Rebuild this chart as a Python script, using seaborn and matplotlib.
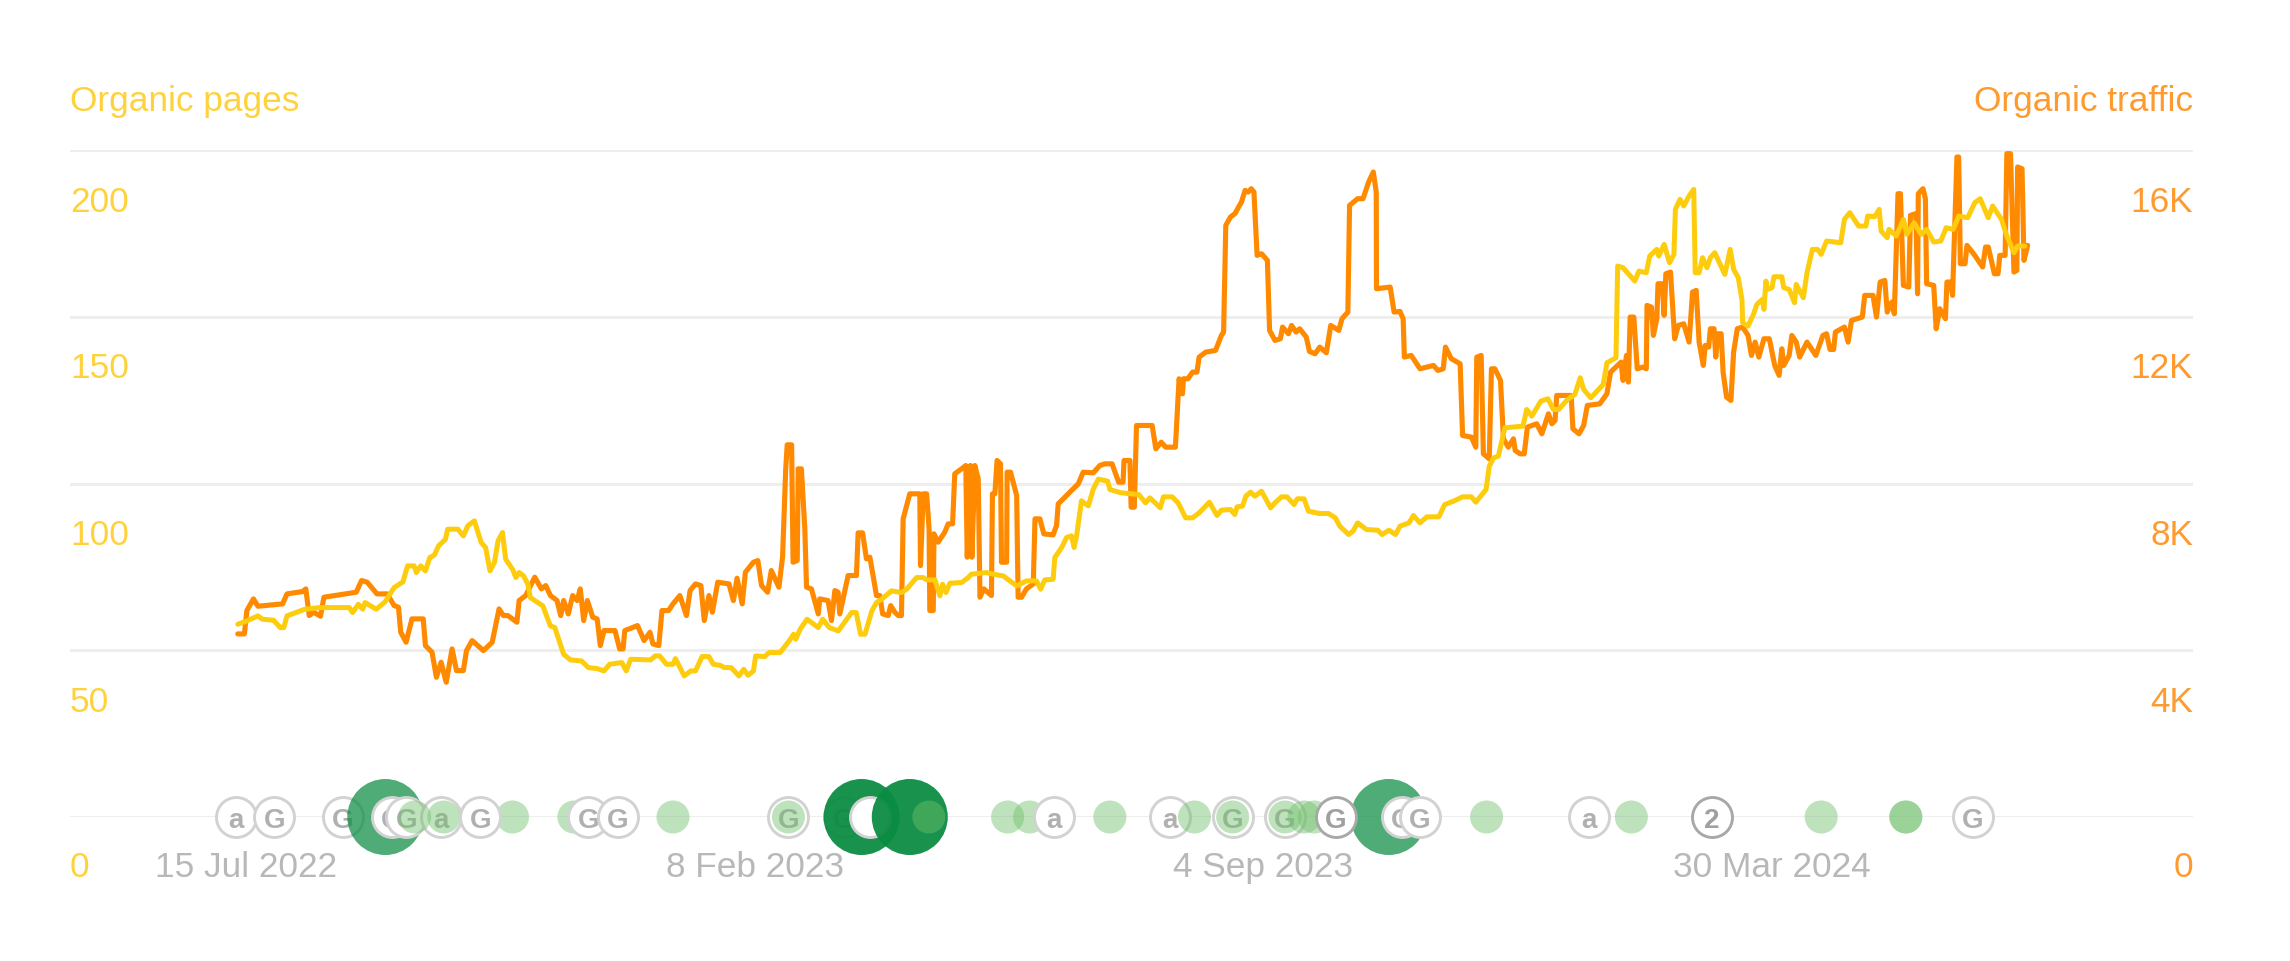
import numpy as np
import pandas as pd
import matplotlib
matplotlib.use("Agg")
import matplotlib.pyplot as plt
from matplotlib.transforms import ScaledTranslation
import seaborn as sns

START = pd.Timestamp("2022-07-15")

traffic_days = [-2.9,-0.2,0.8,3.5,5.3,15.4,17.2,23.6,24.9,26.3,28.1,30.9,32.3,45.5,47.7,50,54,58.2,61,62.8,63.7,65.9,68.3,72.9,73.8,76.5,78.3,80.2,82.3,84.7,86.5,89.3,90.6,92.9,97.5,101.1,103.9,105.7,107.5,111.2,112.1,114.8,118.5,121.2,123,124.9,127.6,129.1,130.3,132.2,134,135.8,137.1,138.5,140,142.2,144,145.3,146.8,151.3,153.2,154.6,155.3,160.5,163.2,165.6,166.8,169.2,170.5,173.2,175,177.8,180.5,182,184.2,186.4,187.8,189.7,191.1,193.3,197.9,199.7,201.2,203.3,204.6,207.9,209.7,211.2,213.7,215.2,218.3,219.8,
221.1,221.7,223.5,224.1,225.8,226.2,227.5,228.9,229.6,231.6,234.4,235,238.4,239.8,241.2,242.5,243.2,246.6,250,250.7,252.5,254.1,255.5,256.8,258.2,259.6,260.7,263,264,265.7,267.1,268.4,269.1,271.8,275.9,276.2,277.3,278.7,279.7,280,281.4,281.7,283.4,286.1,287.5,289.3,290.2,293,294.7,295.3,296.6,297.2,298.4,299.8,300.5,302.1,305.2,305.6,306.6,307.5,308.9,309.3,311.4,311.6,313,315.5,316.1,317.5,319.5,322.3,323,325,326.6,330.4,331.8,332.5,335.2,338.6,340.7,342.7,346.8,349.5,351.6,
354.5,357.2,359,359.4,361.8,362.3,363.6,364.5,370.9,372.4,374.6,376.4,380.4,381.9,383.3,383.7,385.5,387.4,389.2,390.1,392.8,396.8,399.2,400.1,401,402.9,404.7,407.4,408.9,410.2,411.4,412.5,413.8,415.6,418,418.9,421.1,423.3,424.2,426.6,427.9,429.7,431.2,433.9,435.2,437.5,439.4,442.1,443.9,447.2,448.5,450.9,451.6,454.9,457.1,459.4,461.3,462.5,462.6,468.2,469.8,472.2,473.5,474,476.8,480.4,485.9,487.7,489.9,490.8,493.2,496.8,497.8,501.4,503.2,503.6,505.4,506.3,508.7,509.6,511,513.3,514.2,514.5,516.5,518.6,519.3,521.3,523,524.3,528.1,530.2,532.9,534.3,535.6,536.3,
542.2,542.9,545.4,547.3,548.8,553.9,556.8,558.3,562.6,563.4,564.8,565.6,566.3,567.8,569.2,571.4,572.9,573.2,575,575.8,577.2,577.7,579.4,580.2,580.9,582.8,584.5,586,588.2,590.4,591.8,593.3,594.5,596.2,597,598.4,599.1,600.6,601.3,602.1,603.5,604.3,605.7,607.5,608.6,610.1,612.3,614.5,615.9,617.4,618.9,621,623.2,625.4,627.2,628.3,629.1,631.3,632.4,634.2,635.6,638.6,642.2,645.1,646.6,648,649.5,650.2,653.9,655.4,656.8,661.2,662.2,665.6,667,668.5,670.4,671.4,673.3,674.3,675.8,676.8,678,680.2,680.9,683.1,683.8,684.1,686,687,687.5,690.4,691.4,692.9,695.2,695.8,697.3,698.1,699.9,700.6,701.3,703.2,704,707.2,710.4,711.6,712.7,715.2,716.7,717.4,719.6,720.3,721.8,723.2,724.4,724.7,726.5,727.3,728.8]

traffic_vals = [4392,4392,4952,5232,5056,5112,5352,5408,5472,4832,4912,4816,5272,5392,5672,5632,5352,5352,5072,5032,4432,4192,4752,4752,4112,3952,3352,3712,3232,4032,3512,3512,3992,4232,3992,4192,4992,4832,4832,4672,5192,5312,5752,5472,5552,5312,5192,4832,5192,4872,5312,5192,5472,4712,5192,4792,4752,4112,4472,4472,4032,4032,4472,4592,4232,4432,4152,4112,4952,4952,5112,5312,4832,5432,5592,5552,4712,5312,4912,5632,5592,5192,5728,5112,5872,6112,6152,5552,5392,5912,5512,6232,
8352,8928,8928,6112,6152,8352,8352,6912,5512,5472,4872,5232,5192,4712,5432,5392,4872,5792,5792,6816,6816,6192,6232,5792,5312,5312,4872,4832,5072,4912,4832,4832,7152,7752,7752,6032,7752,7752,6912,4952,4952,6792,6592,6832,7032,7032,8232,8352,8432,6232,8432,6232,8432,8112,5272,5472,5312,7752,7752,8552,8472,6112,6112,8272,8272,7712,5272,5272,5472,5592,7152,7152,6792,6768,6992,7512,7672,7872,7992,8272,8256,8432,8472,
8472,8032,8032,8552,8552,7432,7432,9392,9392,8832,8992,8872,8872,10512,10152,10512,10512,10672,10672,11032,11152,11192,11552,11632,14192,14392,14472,14752,15032,14992,15072,14992,13472,13512,13352,11672,11432,11472,11752,11592,11792,11632,11712,11512,11168,11112,11272,11136,11792,11672,11952,12112,14672,14832,14832,15232,15472,14992,12672,12712,12112,12128,11952,11032,11072,10752,10832,10712,10752,11272,10992,10872,9152,9112,8872,11032,11072,8712,8592,10752,10752,10472,9392,9072,8872,9072,8792,8712,8712,9352,9432,9192,9672,9432,9512,10112,
10112,9312,9192,9392,9872,9912,10152,10672,10912,10472,11072,10432,11992,11992,10752,10792,10752,12272,12232,11552,11952,12792,12792,12032,13032,13072,11472,11792,11832,11392,12592,12632,11392,10832,11312,11272,11712,11712,11032,11592,11592,10672,10072,9992,11152,11712,11752,11552,11072,11392,11032,11472,11472,10832,10592,11232,10832,11072,11552,11392,11032,11392,11072,11552,11592,11216,11216,11632,11752,11392,11912,11992,12512,12512,11992,12832,12872,12112,12352,12072,14952,14952,12752,12712,14432,14472,12552,14952,15072,14832,12792,12752,11712,12192,11952,12832,12832,12512,15832,15832,13272,13272,13712,13472,13192,13672,13672,13032,13032,13472,13472,15912,15912,13072,13112,15592,15552,13352,13712]

pages_days = [-2.9,0.8,5.3,7.2,11.7,14.5,15.9,17.2,20.8,24.5,30.9,42.7,44,46.4,48.2,49.1,53.7,57.3,61,64.6,66.5,69.2,70.1,71.9,73.8,75.6,77.4,79.2,82,82.9,87.1,89.3,91.1,93.8,96.6,98.4,100.2,102,103.5,105.3,106.6,109.4,110.8,112.1,113.9,115.7,116.7,121.8,124.9,126.7,130.3,133.1,137.6,140.4,144,146.8,149.1,154.1,155.9,157.7,165.9,167.7,169.6,172.3,175,176,179.6,182.3,184.2,186.9,189.7,191.5,194.2,196,198.8,202,203.9,205.7,207.9,208.8,212.5,214.3,218.8,222.5,224.3,225.2,227,229.8,234.4,236.2,238.9,242.6,248,249.9,251.7,253.5,256.3,258.2,260.3,264.3,268.4,270.5,274.6,277.3,278.7,282.1,284.1,285.2,286.6,288.2,293,295.7,297,303.2,305.9,310,315.5,319.5,323.6,325.3,327,330.4,331.1,333.9,335.9,337.9,339,340,342,344.8,346.8,348.9,352.7,
353.6,358.2,365.4,368.2,370,374.2,375.5,379.1,381.5,384.6,387.4,390.1,394.3,397.4,399.2,402.9,404.7,405.6,407.8,409.2,411.1,412.9,415.6,419.3,421.1,423.8,426,428.9,430.2,433,434.8,439.4,443,445.8,447.6,451.2,453,454.9,458.5,463.1,464.9,467.7,470.4,472.2,475.9,477.7,480.4,483.2,488.1,490.5,494.1,497.8,501.4,503.2,507.4,508.7,510.5,512.4,515.1,522.5,524,526.1,529.8,532.7,534.9,537.1,540.7,543.7,545.9,547.3,550.2,555.3,556.8,560.5,561.2,563.4,568.2,569.9,572.9,574.3,577.2,578,580.2,582.4,584.2,584.8,586.7,588.2,590.4,592.3,592.9,594.5,595.9,597.7,599.1,600.9,605,607.2,608.6,610.5,612,612.3,614.5,616.7,618.1,620.3,621,621.8,622.5,624.3,625.1,628.3,629.1,631.3,633.5,634.2,637.1,638.6,640.8,642.9,644.4,646.6,652.4,653.9,656.1,659.7,662.7,663.4,666.3,668.1,668.9,671.4,672.1,675.1,678,679.4,682.4,685.3,687.5,690.4,693.3,695.5,698.4,700.6,704.3,707.2,709.4,712.7,714.5,718.1,720.3,723.2,724.7,727.6]

pages_vals = [57.8,58.8,60.3,59.3,59,56.8,56.8,60.3,61.3,62.3,62.8,62.8,61.3,63.8,62.3,64.3,62.3,64.5,68.8,70.5,75.3,75.3,73.3,75.3,73.8,77.8,78.5,81.3,83.3,86.3,86.3,84.3,87.3,88.8,82.3,80.8,73.8,76.3,82.8,85.3,77.3,74.3,71.8,73.3,72.3,69.8,65.8,63.3,57.3,56.8,48.8,47.1,46.8,44.8,44.5,43.8,45.8,46.3,43.8,47.3,47.1,48.3,48.3,45.8,45.8,47.5,42.3,43.8,43.8,48.1,48.1,45.8,45.5,44.8,44.8,42.3,44.3,42.5,43.8,48.3,48.1,49.3,49.3,52.8,54.8,53.3,56.3,59.3,56.8,59.3,56.8,55.8,61.3,61.3,54.8,54.8,61.8,64.3,65.3,67.8,67.3,68.3,71.8,71.8,71.1,71.1,66.3,69.8,67.3,70.1,70.3,71.8,72.8,73.3,72.8,72.3,69.3,70.8,70.8,68.3,71.1,71.3,77.8,80.8,83.8,84.3,80.8,84.3,94.8,93.3,98.3,101.3,100.7,
98.2,97.2,96.7,94.2,95.7,92.7,96,96,94.2,89.7,89.7,91.2,94.4,90.4,92,92.2,90.7,93,93.2,96.2,97.4,96.2,97.7,92.7,94.2,96,96,93.7,95.4,95.4,91.7,91,91,89.7,87.2,84.7,85.7,88.2,86.2,86,84.7,86,84.7,87.2,88.2,90.4,88.2,90,90,93.7,94.7,96,96,94.4,98.2,105.2,107.7,108.2,116.7,117.2,122.2,120.2,124.7,125.4,122.2,122.2,125.2,126.7,131.7,128.2,125.7,129.7,136.2,137.7,165.2,164.7,160.7,163.7,163.2,168.2,170.2,168.2,171.7,166.2,168.7,182.2,185.2,183.2,186.2,188.2,163.2,163.2,167.7,164.7,167.7,169.2,162.7,170.2,164.2,161.7,155.2,148.2,147.2,150.7,153.7,155.2,152.2,160.7,158.2,158.7,162,162,158.7,158.2,154.2,159.7,155.7,163.2,170.2,170.2,168.7,172.7,172.2,179.2,181.2,177.2,177.2,180.2,180,182.2,175.7,173.7,176.2,174.2,179.2,174.7,178.2,174.7,176.2,172.4,172.7,176.7,176.2,180.2,179.7,184.2,185.4,179.7,183.2,179.2,174.2,169.2,171.2,171.2]

page_ticks = [0, 50, 100, 150, 200]
page_tick_labels = ["0", "50", "100", "150", "200"]
traffic_ticks = [0, 4000, 8000, 12000, 16000]
traffic_tick_labels = ["0", "4K", "8K", "12K", "16K"]
date_ticks = ["2022-07-15", "2023-02-08", "2023-09-04", "2024-03-30"]
date_tick_labels = ["15 Jul 2022", "8 Feb 2023", "4 Sep 2023", "30 Mar 2024"]

# event markers on the baseline
icons_under_days = [-3.5, 12.1, 40.1, 222.2, 244.9]
icons_under_text = ["a", "G", "G", "G", "G"]
big_soft_days = [57.4, 467.6]
big_strong_days = [252.1]
icons_mid_days = [60, 66, 80.1, 255.7, 378, 403.8, 425.2, 549.5, 706.5]
icons_mid_text = ["G", "G", "a", "", "a", "G", "G", "a", "G"]
big_top_days = [271.8]
light_days = [69.4, 81.3, 109.4, 134.5, 175, 222.2, 279.6, 311.8, 320.8, 353.6, 388.2, 403.8, 425.2, 433, 437.2, 507.6, 566.8, 644.4, 679, 679]
icons_top_days = [96.3, 140.4, 152.4, 330.9, 473, 480.2]
icons_top_text = ["G", "G", "G", "a", "G", "G"]
icons_strong_days = [446.1, 599.6]
icons_strong_text = ["G", "2"]

ORANGE = "#FF8A00"
YELLOW = "#FDCC0D"
ORANGE_T = "#FF9A2E"
YELLOW_T = "#FFD23C"
GREY_T = "#B8B8B8"
GREEN = "#0B8C43"
FONT = "Liberation Sans"


def to_dates(days):
    return START + pd.to_timedelta(np.asarray(days, dtype=float), unit="D")


sns.set_theme(style="white")
plt.rcParams["font.family"] = [FONT, "DejaVu Sans"]

W, H = 2290, 962
fig = plt.figure(figsize=(W / 100, H / 100), dpi=100, facecolor="white")
ax = fig.add_axes([70 / W, 1 - 818 / H, (2193 - 70) / W, (818 - 151) / H])
ax2 = ax.twinx()
ax.set_zorder(ax2.get_zorder() + 1)
ax.patch.set_visible(False)
ax2.patch.set_visible(False)

sns.lineplot(x=to_dates(traffic_days), y=traffic_vals, ax=ax2, color=ORANGE, lw=3.7,
             estimator=None, sort=False, legend=False, solid_joinstyle="round")
sns.lineplot(x=to_dates(pages_days), y=pages_vals, ax=ax, color=YELLOW, lw=3.6,
             estimator=None, sort=False, legend=False, solid_joinstyle="round")


def discs(days, size, color, alpha, z, edge="none", lw=0):
    sns.scatterplot(x=to_dates(days), y=np.zeros(len(days)), ax=ax, s=size, color=color,
                    alpha=alpha, edgecolor=edge, linewidth=lw, zorder=z, clip_on=False,
                    legend=False)


def icons(days, texts, z, edge="#D2D2D2", tcolor="#B0B0B0"):
    # one by one, so that each ring hides the label of the ring before it
    for i, (d, t) in enumerate(zip(days, texts)):
        zi = z + i * 0.02
        discs([d], (40 * 0.72) ** 2, "white", 1, zi, edge=edge, lw=2.1)
        ax.text(to_dates([d])[0], 0, t, ha="center", va="center_baseline", fontsize=20,
                color=tcolor, fontweight="bold", zorder=zi + 0.01, clip_on=False)


BIG = (76 * 0.72) ** 2
LIGHT = (33 * 0.72) ** 2
icons(icons_under_days, icons_under_text, 5)
discs(big_soft_days, BIG, GREEN, 0.72, 6)
discs(big_strong_days, BIG, GREEN, 0.95, 6)
icons(icons_mid_days, icons_mid_text, 7)
discs(big_top_days, BIG, GREEN, 0.95, 8)
discs(light_days, LIGHT, "#6FBF6B", 0.45, 9)
icons(icons_top_days, icons_top_text, 10)
icons(icons_strong_days, icons_strong_text, 11, edge="#A8A8A8", tcolor="#A0A0A0")

ax.set_xlim(to_dates([-71.5])[0], to_dates([796.4])[0])
ax.set_ylim(0, 200)
ax2.set_ylim(0, 16000)
ax.set_xlabel("")
ax.set_ylabel("")
ax2.set_ylabel("")

ax2.set_yticks(traffic_ticks)
ax2.set_yticklabels(traffic_tick_labels)
ax.set_yticks(page_ticks)
ax.set_yticklabels(page_tick_labels)
ax.set_xticks(pd.to_datetime(date_ticks))
ax.set_xticklabels(date_tick_labels)

ax.grid(False)
ax2.grid(False)
ax2.yaxis.grid(True, color="#EEEEEE", lw=2.2)
ax2.set_axisbelow(True)
ax.tick_params(axis="both", length=0, pad=0)
ax2.tick_params(axis="y", length=0, pad=0)
for a in (ax, ax2):
    for s in a.spines.values():
        s.set_visible(False)

FS = 25.4
dy = ScaledTranslation(0, -51 / 100, fig.dpi_scale_trans)
dy0 = ScaledTranslation(0, -49.5 / 100, fig.dpi_scale_trans)
for a, col, ha in ((ax, YELLOW_T, "left"), (ax2, ORANGE_T, "right")):
    for lab, t in zip(a.get_yticklabels(), a.get_yticks()):
        lab.set(color=col, fontsize=FS, ha=ha, va="center")
        lab.set_transform(lab.get_transform() + (dy0 if t == 0 else dy))
dx = ScaledTranslation(1 / 100, -49.5 / 100, fig.dpi_scale_trans)
for lab in ax.get_xticklabels():
    lab.set(color=GREY_T, fontsize=FS, ha="center", va="center")
    lab.set_transform(lab.get_transform() + dx)

fig.text(70 / W, 1 - 101 / H, "Organic pages", color=YELLOW_T, fontsize=FS, ha="left", va="center")
fig.text(2193 / W, 1 - 101 / H, "Organic traffic", color=ORANGE_T, fontsize=FS, ha="right", va="center")

fig.savefig("out.png", dpi=100, facecolor="white")
